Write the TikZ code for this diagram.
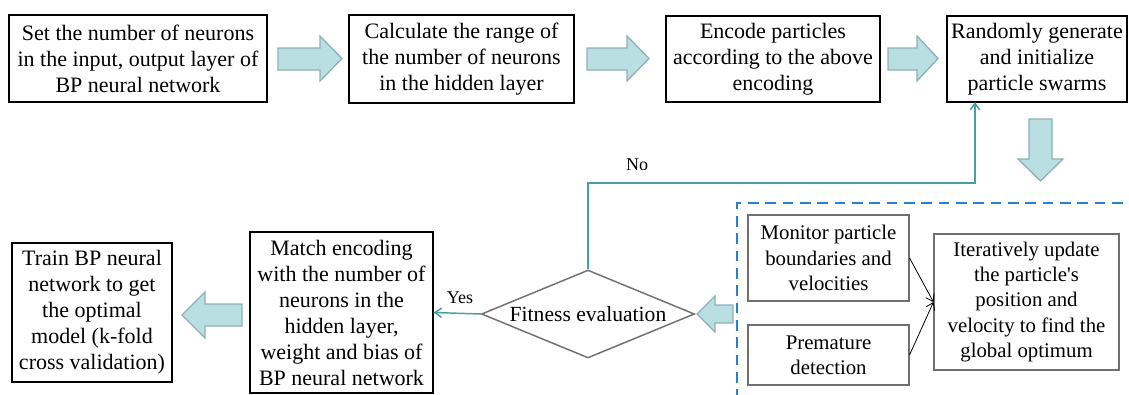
\documentclass[tikz,border=0pt]{standalone}
\usepackage{fontspec}
\setmainfont{Liberation Serif}
\newfontfamily\serf{Liberation Serif}
\usetikzlibrary{shapes.geometric,arrows.meta}
\definecolor{afill}{HTML}{B9DFE2}
\definecolor{aedge}{HTML}{8DB2B4}
\definecolor{teal1}{HTML}{4A9EA3}
\definecolor{dblue}{HTML}{2A7FCF}
\definecolor{gedge}{HTML}{707070}
\tikzset{
  mainbox/.style={draw=black, line width=1pt, align=center, inner sep=0pt,
    font=\serf\fontsize{16.5}{19.5}\selectfont},
  subbox/.style={draw=gedge, line width=0.8pt, align=center, inner sep=0pt,
    font=\serf\fontsize{15.6}{19}\selectfont},
  blockarrow/.style={fill=afill, draw=aedge, line width=1pt, line join=miter},
  tealline/.style={draw=teal1, line width=1.1pt, -{Straight Barb[length=5pt,width=7pt]}},
  blackline/.style={draw=black, line width=0.6pt, -{Straight Barb[length=5pt,width=7pt]}},
  lbl/.style={font=\serf\fontsize{13.5}{16}\selectfont, inner sep=0pt}
}
\begin{document}
\begin{tikzpicture}[x=0.75pt,y=-0.75pt]
\useasboundingbox (0,0) rectangle (1129,394);
% top row
\node[mainbox, minimum width=258*0.75pt, minimum height=87*0.75pt] (b1) at (138,58.5)
  {Set the number of neurons\\in the input, output layer of\\BP neural network};
\node[mainbox, minimum width=225*0.75pt, minimum height=88*0.75pt] (b2) at (461.5,59)
  {Calculate the range of\\the number of neurons\\in the hidden layer};
\node[mainbox, minimum width=214*0.75pt, minimum height=86*0.75pt] (b3) at (773,59)
  {Encode particles\\according to the above\\encoding};
\node[mainbox, minimum width=180*0.75pt, minimum height=86*0.75pt] (b4) at (1037,59)
  {Randomly generate\\and initialize\\particle swarms};
% bottom row
\node[mainbox, minimum width=160*0.75pt, minimum height=139*0.75pt] (train) at (92,312.5)
  {Train BP neural\\network to get\\the optimal\\model (k-fold\\cross validation)};
\node[mainbox, minimum width=183*0.75pt, minimum height=161*0.75pt] (match) at (341.5,312.5)
  {Match encoding\\with the number of\\neurons in the\\hidden layer,\\weight and bias of\\BP neural network};
\node[draw=gedge, line width=1.1pt, shape=diamond, aspect=2.42, inner sep=0pt,
  minimum width=213*0.75pt, minimum height=88*0.75pt,
  font=\serf\fontsize{16.2}{19.5}\selectfont] (fit) at (588,314) {Fitness evaluation};
\node[subbox, minimum width=161*0.75pt, minimum height=86*0.75pt] (mon) at (828.5,258)
  {Monitor particle\\boundaries and\\velocities};
\node[subbox, minimum width=161*0.75pt, minimum height=60*0.75pt] (pre) at (828.5,355)
  {Premature\\detection};
\node[subbox, minimum width=185*0.75pt, minimum height=136*0.75pt] (iter) at (1026.5,302)
  {Iteratively update\\the particle{\char"27}s\\position and\\velocity to find the\\global optimum};
% dashed region
\draw[dblue, line width=1.6pt, dash pattern=on 8pt off 5pt] (1140,203) -- (737,203) -- (737,400);
% block arrows
\draw[blockarrow] (278,48) -- (320,48) -- (320,36) -- (342,58.5) -- (320,81) -- (320,70) -- (278,70) -- cycle;
\draw[blockarrow] (587,48) -- (627,48) -- (627,36) -- (649,58.5) -- (627,81) -- (627,70) -- (587,70) -- cycle;
\draw[blockarrow] (888,48) -- (917,48) -- (917,36) -- (938,58.5) -- (917,81) -- (917,70) -- (888,70) -- cycle;
\draw[blockarrow] (1029,119) -- (1052,119) -- (1052,159) -- (1063,159) -- (1040.5,181) -- (1018,159) -- (1029,159) -- cycle;
\draw[blockarrow] (242,304) -- (205,304) -- (205,292) -- (182,315) -- (205,338) -- (205,326) -- (242,326) -- cycle;
\draw[blockarrow] (733,305) -- (715,305) -- (715,296) -- (697,314) -- (715,332) -- (715,323) -- (733,323) -- cycle;
% connectors
\coordinate (nocorner1) at (588,183);
\coordinate (nocorner2) at (975,183);
\coordinate (notarget) at (975,102);
\draw[tealline] (fit.north) -- (nocorner1) -- (nocorner2) -- (notarget);
\draw[tealline] (fit.west) -- (match.east);
\draw[blackline] (mon.east) -- (iter.west);
\draw[blackline] (pre.east) -- (iter.west);
% labels
\node[lbl] (nolbl) at (637,165) {No};
\node[lbl] (yeslbl) at (460,298) {Yes};
\end{tikzpicture}
\end{document}
